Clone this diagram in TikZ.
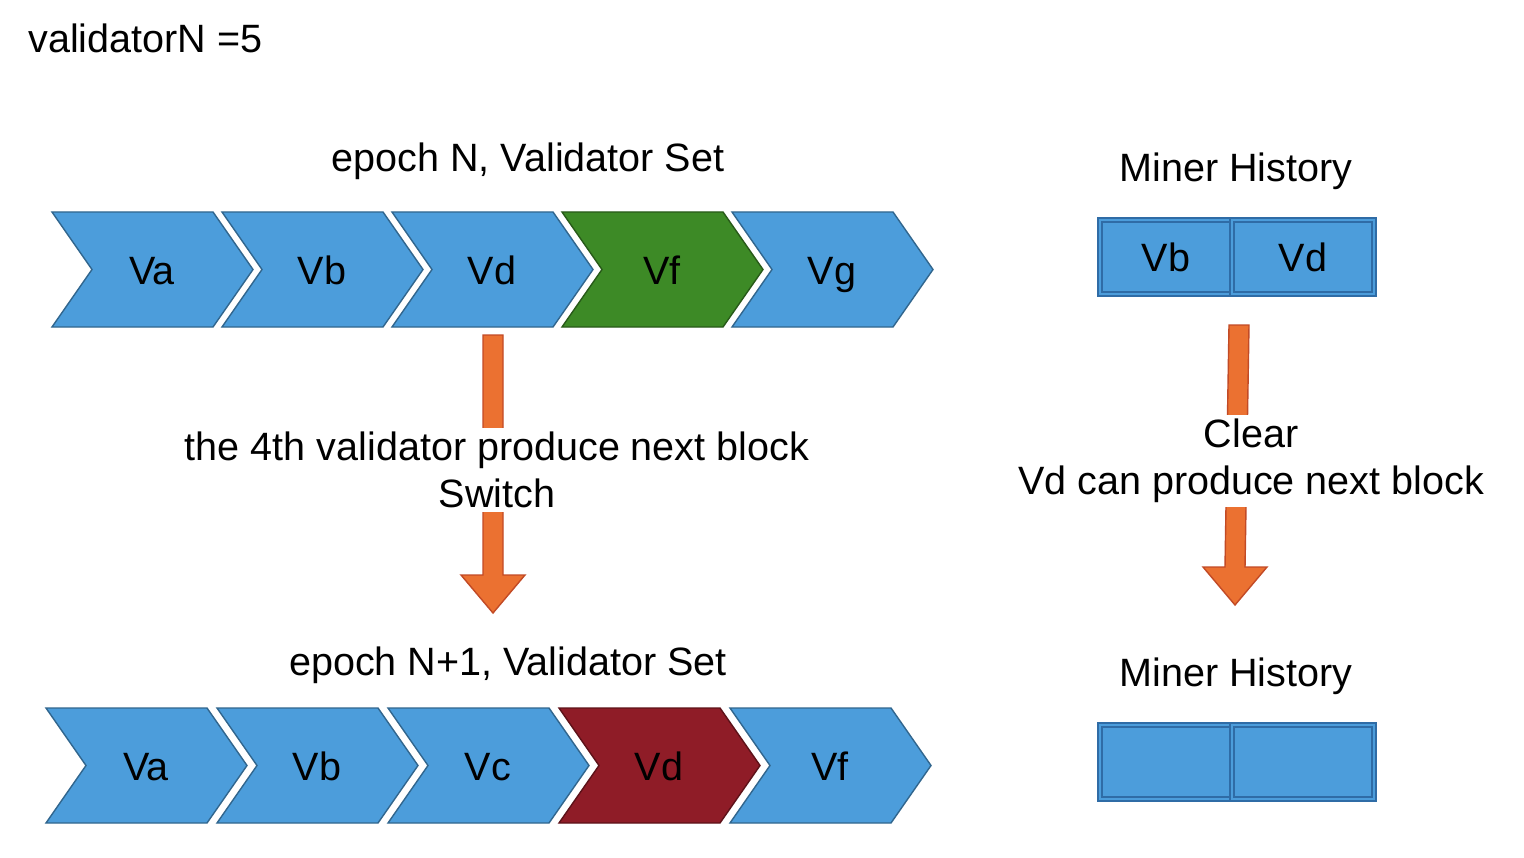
\documentclass[tikz,border=0pt]{standalone}
\usepackage{fontspec}
\setmainfont{Liberation Sans}
\definecolor{vblue}{HTML}{4C9DDB}
\definecolor{vborder}{HTML}{2F6CA6}
\definecolor{vgreen}{HTML}{3D8A26}
\definecolor{vred}{HTML}{8F1C27}
\definecolor{vorange}{HTML}{EB7131}
\definecolor{oborder}{HTML}{C24A25}
\tikzset{
  cell/.style={fill=vblue, draw=vborder, double=vblue, double distance=1.6pt, line width=0.7pt, minimum height=1.48cm, inner sep=0pt},
  arrowblk/.style={fill=vorange, draw=oborder, line width=0.8pt, line join=miter}
}
% block arrow: x top, y top, x tip, y tip
\newcommand{\blockarrow}[4]{%
  \draw[arrowblk] (#1-10,#2) -- (#1+10,#2) -- (#3+10,#4-38) -- (#3+32,#4-38) -- (#3,#4) -- (#3-32,#4-38) -- (#3-10,#4-38) -- cycle;}
\begin{document}
\begin{tikzpicture}[x=0.02cm, y=-0.02cm, font=\fontsize{22.5}{27}\selectfont]
  \useasboundingbox (0,0) rectangle (1524,858);
  \node[anchor=west, inner sep=0pt] (valn) at (28,38) {validatorN =5};
  % epoch N
  \node (setN) at (528,161) {epoch N, Validator Set};
  \foreach \x/\name/\col in {52/Va/vblue, 222/Vb/vblue, 392/Vd/vblue, 562/Vf/vgreen, 732/Vg/vblue}{
    \draw[fill=\col, draw=\col!65!black, line width=0.8pt] (\x,212) -- ++(161,0) -- ++(40,57.5) -- ++(-40,57.5) -- ++(-161,0) -- ++(40,-57.5) -- cycle;
    \node[anchor=base] (top\name) at (\x+100,284) {\name};
  }
  % epoch N+1
  \node (setM) at (508,665) {epoch N+1, Validator Set};
  \foreach \x/\name/\col in {46/Va/vblue, 217/Vb/vblue, 388/Vc/vblue, 559/Vd/vred, 730/Vf/vblue}{
    \draw[fill=\col, draw=\col!65!black, line width=0.8pt] (\x,708) -- ++(161,0) -- ++(40,57.5) -- ++(-40,57.5) -- ++(-161,0) -- ++(40,-57.5) -- cycle;
    \node[anchor=base] (bot\name) at (\x+100,780) {\name};
  }
  % miner history
  \node (histA) at (1236,171) {Miner History};
  \node[cell, minimum width=2.64cm] (hVb) at (1166,257) {Vb};
  \node[cell, minimum width=2.84cm] (hVd) at (1303,257) {Vd};
  \node (histB) at (1236,676) {Miner History};
  \node[cell, minimum width=2.64cm] (hE1) at (1166,762) {};
  \node[cell, minimum width=2.84cm] (hE2) at (1303,762) {};
  % arrows and their labels
  \blockarrow{493}{335}{493}{613}
  \blockarrow{1239}{325}{1235}{605}
  \node[fill=white, inner sep=2pt, align=center] (switch) at (497,470) {the 4th validator produce next block\\Switch};
  \node[fill=white, inner sep=2pt, align=center] (clear) at (1251,461) {Clear\\Vd can produce next block};
\end{tikzpicture}
\end{document}
